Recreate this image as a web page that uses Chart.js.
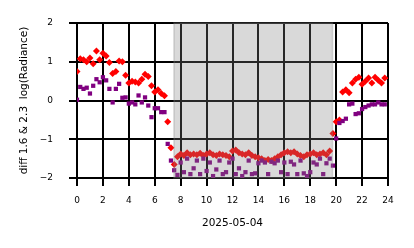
<!DOCTYPE html>
<html>
<head>
<meta charset="utf-8">
<script src="https://cdn.jsdelivr.net/npm/chart.js@4"></script>
<style>
    body { margin: 0; background: #fff; }
    canvas { display: block; }
</style>
</head>
<body>
<canvas id="diffChart" width="414" height="248"></canvas>
<script>
// Chart data
const hours = [
    0, 0.25, 0.5, 0.75, 1, 1.25, 1.5, 1.75, 2, 2.25, 2.5, 2.75,
    3, 3.25, 3.5, 3.75, 4, 4.25, 4.5, 4.75, 5, 5.25, 5.5, 5.75,
    6, 6.25, 6.5, 6.75, 7, 7.25, 7.5, 7.75, 8, 8.25, 8.5, 8.75,
    9, 9.25, 9.5, 9.75, 10, 10.25, 10.5, 10.75, 11, 11.25, 11.5, 11.75,
    12, 12.25, 12.5, 12.75, 13, 13.25, 13.5, 13.75, 14, 14.25, 14.5, 14.75,
    15, 15.25, 15.5, 15.75, 16, 16.25, 16.5, 16.75, 17, 17.25, 17.5, 17.75,
    18, 18.25, 18.5, 18.75, 19, 19.25, 19.5, 19.75, 20, 20.25, 20.5, 20.75,
    21, 21.25, 21.5, 21.75, 22, 22.25, 22.5, 22.75, 23, 23.25, 23.5, 23.75
];

const redValues = [
    0.75, 1.08, 1.05, 1.0, 1.1, 0.95, 1.28, 1.05, 1.22, 1.15, 0.98, 0.7,
    0.75, 1.02, 1.0, 0.65, 0.45, 0.5, 0.48, 0.45, 0.55, 0.68, 0.62, 0.38,
    0.22, 0.28, 0.18, 0.12, -0.55, -1.22, -1.65, -1.45, -1.38, -1.42, -1.35, -1.4,
    -1.38, -1.4, -1.36, -1.42, -1.38, -1.35, -1.4, -1.42, -1.38, -1.4, -1.42, -1.45,
    -1.3, -1.28, -1.35, -1.38, -1.4, -1.35, -1.42, -1.45, -1.48, -1.5, -1.55, -1.52,
    -1.55, -1.5, -1.45, -1.4, -1.35, -1.32, -1.35, -1.32, -1.38, -1.42, -1.45, -1.4,
    -1.38, -1.35, -1.4, -1.38, -1.35, -1.4, -1.3, -0.85, -0.55, -0.5, 0.22, 0.28,
    0.2, 0.45, 0.55, 0.6, 0.42, 0.5, 0.58, 0.45, 0.6, 0.52, 0.45, 0.58
];

const purpleValues = [
    0.02, 0.35, 0.3, 0.33, 0.18, 0.38, 0.55, 0.47, 0.6, 0.52, 0.3, -0.05,
    0.3, 0.43, 0.07, 0.08, -0.08, -0.05, -0.1, 0.13, -0.05, 0.08, -0.13, -0.43,
    -0.2, -0.2, -0.3, -0.3, -1.12, -1.55, -1.8, -1.92, -1.6, -1.85, -1.5, -1.9,
    -1.75, -1.55, -1.9, -1.5, -1.82, -1.6, -1.95, -1.78, -1.55, -1.9, -1.85, -1.6,
    -1.5, -1.9, -1.75, -1.95, -1.85, -1.55, -1.9, -1.88, -1.62, -1.55, -1.6, -1.9,
    -1.58, -1.62, -1.55, -1.85, -1.6, -1.9, -1.58, -1.65, -1.9, -1.55, -1.88, -1.95,
    -1.85, -1.6, -1.65, -1.5, -1.9, -1.62, -1.5, -1.68, -0.98, -0.58, -0.53, -0.47,
    -0.1, -0.08, -0.35, -0.33, -0.22, -0.17, -0.13, -0.1, -0.1, -0.05, -0.1, -0.1
];

const xTicks = [0, 2, 4, 6, 8, 10, 12, 14, 16, 18, 20, 22, 24];
const yTicks = [-2, -1, 0, 1, 2];
const nightSpan = [7.48, 19.72];
const dateLabel = '2025-05-04';
const yLabel = 'diff 1.6 & 2.3  log(Radiance)';

// Build point lists
function toPoints(values) {
    return hours.map((h, i) => ({ x: h, y: values[i] }));
}

// Gray shading for the night period, drawn over the markers
const nightShade = {
    id: 'nightShade',
    afterDatasetsDraw(chart) {
        const { ctx, chartArea, scales } = chart;
        const x0 = scales.x.getPixelForValue(nightSpan[0]);
        const x1 = scales.x.getPixelForValue(nightSpan[1]);
        ctx.save();
        ctx.fillStyle = 'rgba(128, 128, 128, 0.3)';
        ctx.fillRect(x0, chartArea.top, x1 - x0, chartArea.bottom - chartArea.top);
        ctx.strokeStyle = 'rgba(128, 128, 128, 0.3)';
        ctx.lineWidth = 1.5;
        ctx.strokeRect(x0, chartArea.top, x1 - x0, chartArea.bottom - chartArea.top);
        ctx.restore();
    }
};

const tickFont = { family: 'DejaVu Sans', size: 9 };
const titleFont = { family: 'DejaVu Sans', size: 10.5 };

const ctx = document.getElementById('diffChart').getContext('2d');

new Chart(ctx, {
    type: 'scatter',
    data: {
        datasets: [
            {
                label: '2.3',
                data: toPoints(purpleValues),
                pointStyle: 'rect',
                pointRadius: 3,
                backgroundColor: '#800080',
                borderWidth: 0
            },
            {
                label: '1.6',
                data: toPoints(redValues),
                pointStyle: 'rectRot',
                pointRadius: 3.5,
                backgroundColor: '#ff0000',
                borderWidth: 0
            }
        ]
    },
    options: {
        responsive: false,
        animation: false,
        layout: {
            padding: { left: 0, right: 26, top: 23, bottom: 0 }
        },
        plugins: {
            legend: { display: false },
            tooltip: { enabled: false }
        },
        scales: {
            x: {
                type: 'linear',
                min: 0,
                max: 24,
                afterFit: scale => { scale.height = 70; },
                afterBuildTicks: scale => {
                    scale.ticks = xTicks.map(v => ({ value: v }));
                },
                grid: {
                    color: '#000',
                    lineWidth: 2,
                    tickLength: 8,
                    drawTicks: true
                },
                border: { display: true, color: '#000', width: 2 },
                ticks: {
                    color: '#000',
                    font: tickFont,
                    padding: 9,
                    maxRotation: 0
                },
                title: {
                    display: true,
                    text: dateLabel,
                    color: '#000',
                    font: titleFont,
                    padding: { top: 0, bottom: 18 }
                }
            },
            y: {
                min: -2,
                max: 2,
                afterFit: scale => { scale.width = 77; },
                afterBuildTicks: scale => {
                    scale.ticks = yTicks.map(v => ({ value: v }));
                },
                grid: {
                    color: '#000',
                    lineWidth: 2,
                    tickLength: 8,
                    drawTicks: true
                },
                border: { display: true, color: '#000', width: 2 },
                ticks: {
                    color: '#000',
                    font: tickFont,
                    padding: 16,
                    callback: v => String(v).replace('-', '\u2212')
                },
                title: {
                    display: true,
                    text: yLabel,
                    color: '#000',
                    font: titleFont,
                    padding: { top: 18, bottom: 0 }
                }
            }
        }
    },
    plugins: [nightShade]
});
</script>
</body>
</html>
